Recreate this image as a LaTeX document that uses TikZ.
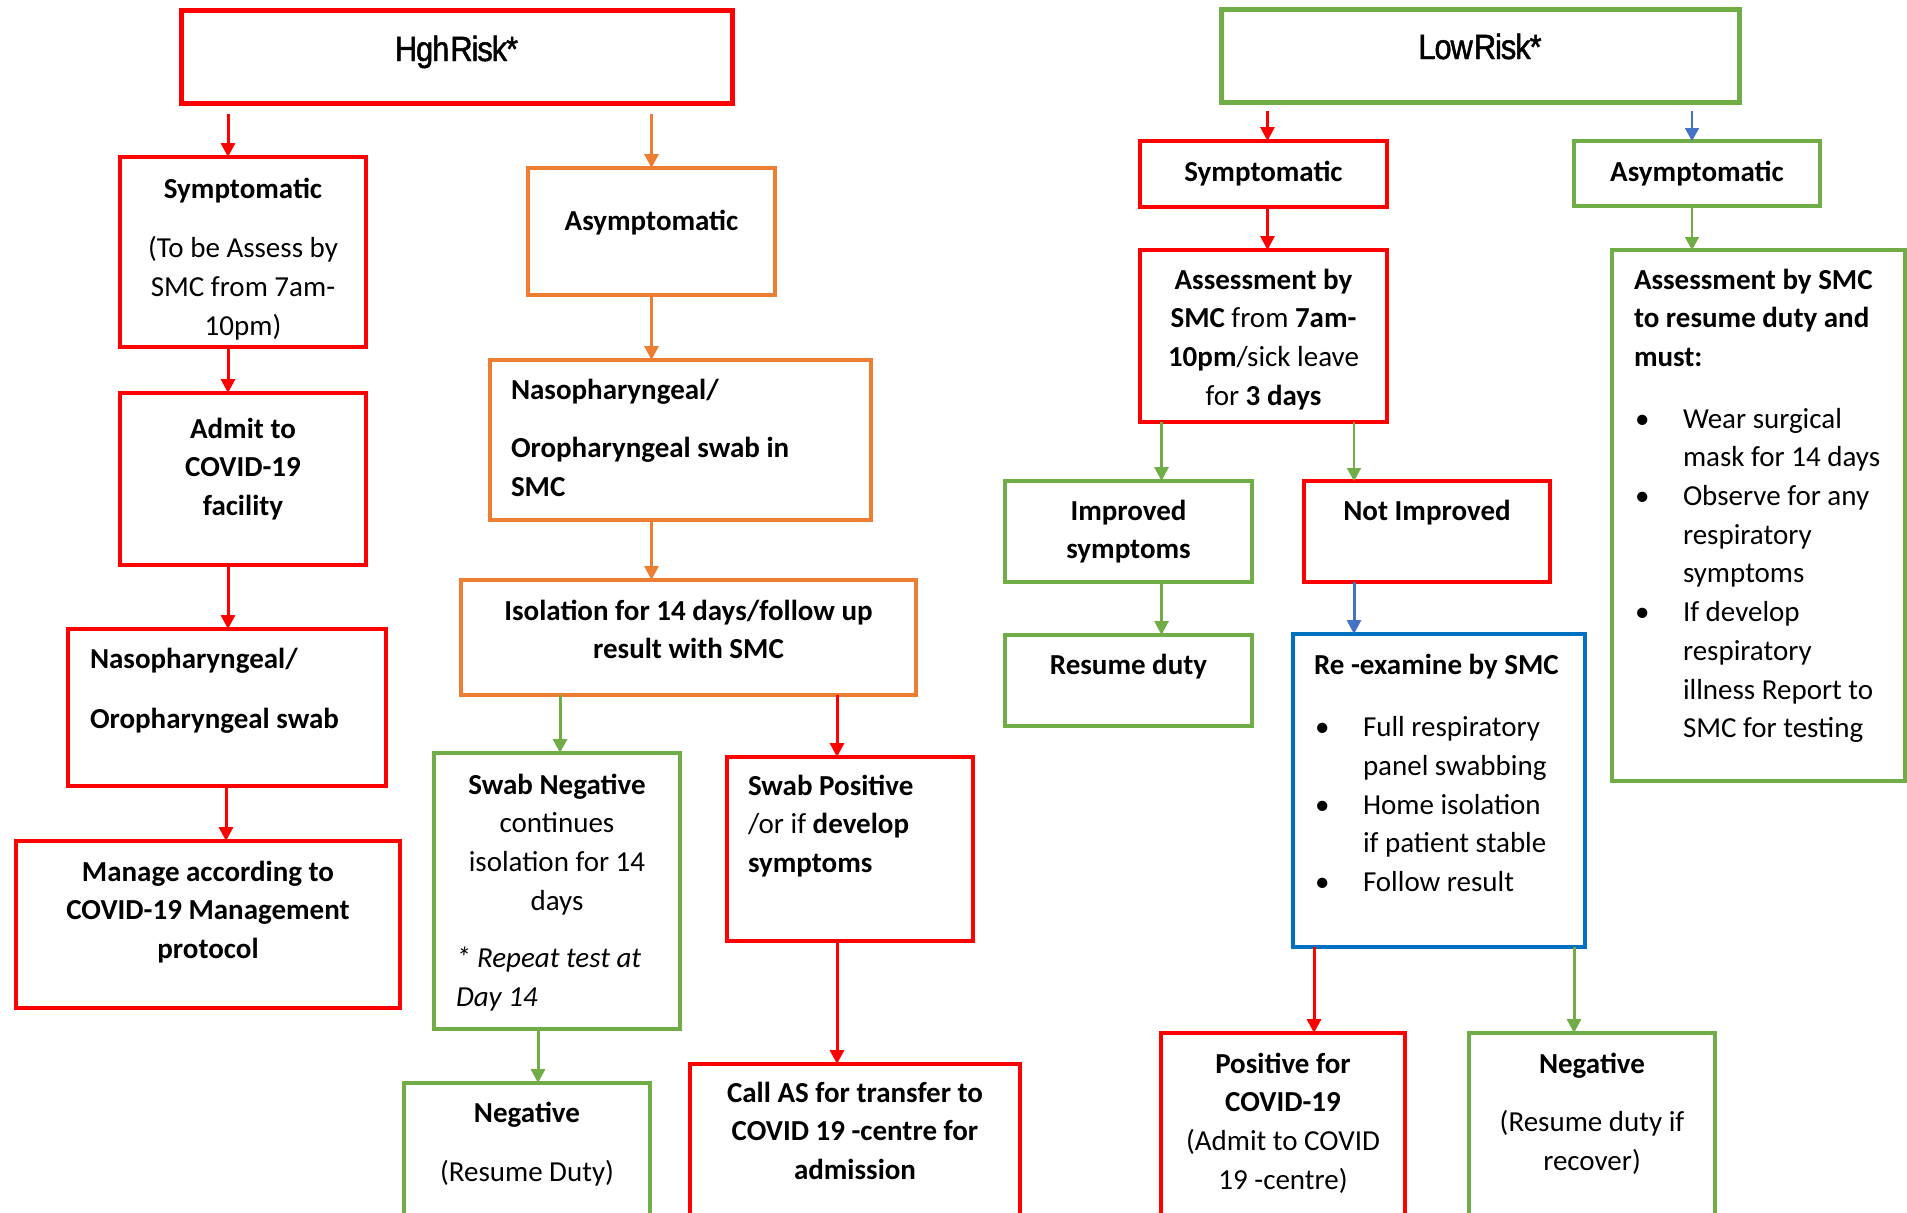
\documentclass[tikz,border=0pt]{standalone}
\usepackage{fontspec}
\setmainfont{Carlito}
\newfontfamily\titlefont[FakeStretch=0.88,FakeBold=1.4,LetterSpace=-3,WordSpace=0.15]{Liberation Sans}
\usepackage{tikz}
\usetikzlibrary{positioning,arrows.meta}
\definecolor{boxred}{HTML}{FF0000}
\definecolor{boxorange}{HTML}{ED7D31}
\definecolor{boxgreen}{HTML}{70AD47}
\definecolor{boxblue}{HTML}{0070C0}
\definecolor{arrowblue}{HTML}{4472C4}
\newcommand{\bodyfont}{\fontsize{29}{38.7}\selectfont}
\newcommand{\inbox}[4]{\parbox[c][#2pt][t]{#1pt}{\vspace*{#3pt}#4}}
\newcommand{\bul}{\hspace*{1pt}\makebox[48pt][l]{\textbullet}}
\newcommand{\bulgo}{\hspace*{49pt}}

\begin{document}
\begin{tikzpicture}[x=1pt, y=-1pt,
                    box/.style={draw, line width=3.5pt, inner sep=0pt, outer sep=0pt,
                                anchor=north west, font=\bodyfont},
                    redbox/.style={box, draw=boxred},
                    orangebox/.style={box, draw=boxorange},
                    greenbox/.style={box, draw=boxgreen},
                    bluebox/.style={box, draw=boxblue},
                    titlebox/.style={line width=5pt},
                    link/.style={-{Triangle[width=14pt,length=14pt]}, line width=3pt},
                    thinlink/.style={-{Triangle[width=14pt,length=13pt]}, line width=1.8pt}]
    \useasboundingbox (0,0) rectangle (1907,1213);

    \node[redbox, titlebox] (hr) at (181,10) {\inbox{551}{93}{23}{\centering
        \titlefont\fontsize{35}{40}\selectfont\strut Hgh Risk*}};
    \node[greenbox, titlebox] (lr) at (1221,9) {\inbox{518}{93}{22}{\centering
        \titlefont\fontsize{35}{40}\selectfont\strut Low Risk*}};

    \node[redbox] (hrsym) at (120,157) {\inbox{246}{190}{14}{\centering
        \strut\textbf{Symptomatic}\\[21pt]
        (To be Assess by\\SMC from 7am-\\10pm)}};
    \node[redbox] (hradmit) at (120,393) {\inbox{246}{172}{18}{\centering
        \strut\textbf{Admit to\\COVID-19\\facility}}};
    \node[redbox] (hrswab) at (68,629) {\inbox{318}{157}{12}{\raggedright\leftskip=22pt
        \strut\textbf{Nasopharyngeal/}\\[22pt]
        \textbf{Oropharyngeal swab}}};
    \node[redbox] (hrmanage) at (16,841) {\inbox{384}{167}{13}{\centering
        \strut\textbf{Manage according to\\COVID-19 Management\\protocol}}};

    \node[orangebox] (hrasym) at (528,168) {\inbox{247}{127}{35}{\centering
        \strut\textbf{Asymptomatic}}};
    \node[orangebox] (hrnaso) at (490,360) {\inbox{381}{160}{12}{\raggedright\leftskip=21pt
        \strut\textbf{Nasopharyngeal/}\\[20pt]
        \textbf{Oropharyngeal swab in}\\\textbf{SMC}}};
    \node[orangebox] (hriso) at (461,580) {\inbox{455}{115}{13}{\centering
        \strut\textbf{Isolation for 14 days/follow up\\result with SMC}}};

    \node[greenbox] (hrneg) at (434,753) {\inbox{246}{276}{14}{\centering
        \strut\textbf{Swab Negative}\\continues\\isolation for 14\\days\par
        \vspace{19pt}\raggedright\leftskip=22pt\itshape
        * Repeat test at\\Day 14}};
    \node[redbox] (hrpos) at (727,757) {\inbox{246}{184}{11}{\raggedright\leftskip=21pt
        \strut\textbf{Swab Positive}\\/or if \textbf{develop}\\\textbf{symptoms}}};
    \node[greenbox] (hrresume) at (404,1083) {\inbox{246}{160}{12}{\centering
        \strut\textbf{Negative}\\[21pt](Resume Duty)}};
    \node[redbox] (hrcall) at (690,1064) {\inbox{330}{180}{11}{\centering
        \strut\textbf{Call AS for transfer to\\COVID 19 -centre for\\admission}}};

    \node[redbox] (lrsym) at (1140,141) {\inbox{247}{66}{13}{\centering
        \strut\textbf{Symptomatic}}};
    \node[greenbox] (lrasym) at (1574,141) {\inbox{246}{65}{13}{\centering
        \strut\textbf{Asymptomatic}}};
    \node[redbox] (lrassess) at (1140,250) {\inbox{247}{172}{12}{\centering
        \strut\textbf{Assessment by}\\\textbf{SMC} from \textbf{7am-}\\
        \textbf{10pm}/sick leave\\for \textbf{3 days}}};
    \node[greenbox] (lrcheck) at (1612,250) {\inbox{293}{531}{12}{\raggedright\leftskip=22pt
        \strut\textbf{Assessment by SMC}\\\textbf{to resume duty and}\\\textbf{must:}\\[23pt]
        \bul Wear surgical\\\bulgo mask for 14 days\\
        \bul Observe for any\\\bulgo respiratory\\\bulgo symptoms\\
        \bul If develop\\\bulgo respiratory\\\bulgo illness Report to\\\bulgo SMC for testing}};
    \node[greenbox] (lrbetter) at (1005,481) {\inbox{247}{101}{12}{\centering
        \strut\textbf{Improved\\symptoms}}};
    \node[redbox] (lrworse) at (1304,481) {\inbox{246}{101}{12}{\centering
        \strut\textbf{Not Improved}}};
    \node[greenbox] (lrresume) at (1005,635) {\inbox{247}{91}{12}{\centering
        \strut\textbf{Resume duty}}};
    \node[bluebox] (lrrecheck) at (1293,634) {\inbox{292}{313}{13}{\raggedright\leftskip=21pt
        \strut\textbf{Re -examine by SMC}\\[24pt]
        \bul Full respiratory\\\bulgo panel swabbing\\
        \bul Home isolation\\\bulgo if patient stable\\
        \bul Follow result}};
    \node[redbox] (lrpos) at (1161,1033) {\inbox{244}{210}{13}{\centering
        \strut\textbf{Positive for}\\\textbf{COVID-19}\\(Admit to COVID\\19 -centre)}};
    \node[greenbox] (lrneg) at (1469,1033) {\inbox{246}{210}{13}{\centering
        \strut\textbf{Negative}\\[20pt](Resume duty if\\recover)}};

    \draw[link, boxred] ([xshift=-15pt,yshift=-11pt]hr.south -| hrsym.north) -- ([xshift=-15pt]hrsym.north);
    \draw[link, boxorange] ([yshift=-11pt]hr.south -| hrasym.north) -- (hrasym.north);
    \draw[link, boxred] ([xshift=-15pt]hrsym.south) -- ([xshift=-15pt]hrsym.south |- hradmit.north);
    \draw[link, boxred] ([xshift=-15pt]hradmit.south) -- ([xshift=-15pt]hradmit.south |- hrswab.north);
    \draw[link, boxred] ([xshift=-1pt]hrswab.south) -- ([xshift=-1pt]hrswab.south |- hrmanage.north);
    \draw[link, boxorange] (hrasym.south) -- (hrasym.south |- hrnaso.north);
    \draw[link, boxorange] (hrnaso.south -| hrasym.south) -- (hrasym.south |- hriso.north);
    \draw[link, boxgreen] ([xshift=3pt]hriso.south -| hrneg.north) -- ([xshift=3pt]hrneg.north);
    \draw[link, boxred] ([xshift=-13pt]hriso.south -| hrpos.north) -- ([xshift=-13pt]hrpos.north);
    \draw[link, boxgreen] ([xshift=11pt]hrresume.north |- hrneg.south) -- ([xshift=11pt]hrresume.north);
    \draw[link, boxred] ([xshift=-13pt]hrpos.south) -- ([xshift=-13pt]hrpos.south |- hrcall.north);

    \draw[link, boxred] ([xshift=4pt,yshift=-9pt]lr.south -| lrsym.north) -- ([xshift=4pt]lrsym.north);
    \draw[thinlink, arrowblue] ([xshift=-5pt,yshift=-9pt]lr.south -| lrasym.north) -- ([xshift=-5pt]lrasym.north);
    \draw[link, boxred] ([xshift=4pt]lrsym.south) -- ([xshift=4pt]lrsym.south |- lrassess.north);
    \draw[thinlink, boxgreen] ([xshift=-5pt]lrasym.south) -- ([xshift=-5pt]lrasym.south |- lrcheck.north);
    \draw[link, boxgreen] ([xshift=33pt]lrbetter.north |- lrassess.south) -- ([xshift=33pt]lrbetter.north);
    \draw[thinlink, boxgreen] ([xshift=-73pt]lrworse.north |- lrassess.south) -- ([xshift=-73pt]lrworse.north);
    \draw[link, boxgreen] ([xshift=33pt]lrbetter.south) -- ([xshift=33pt]lrbetter.south |- lrresume.north);
    \draw[link, arrowblue] ([xshift=-73pt]lrworse.south) -- ([xshift=-73pt]lrworse.south |- lrrecheck.north);
    \draw[link, boxred] ([xshift=31pt]lrpos.north |- lrrecheck.south) -- ([xshift=31pt]lrpos.north);
    \draw[link, boxgreen] ([xshift=-18pt]lrneg.north |- lrrecheck.south) -- ([xshift=-18pt]lrneg.north);
\end{tikzpicture}
\end{document}
